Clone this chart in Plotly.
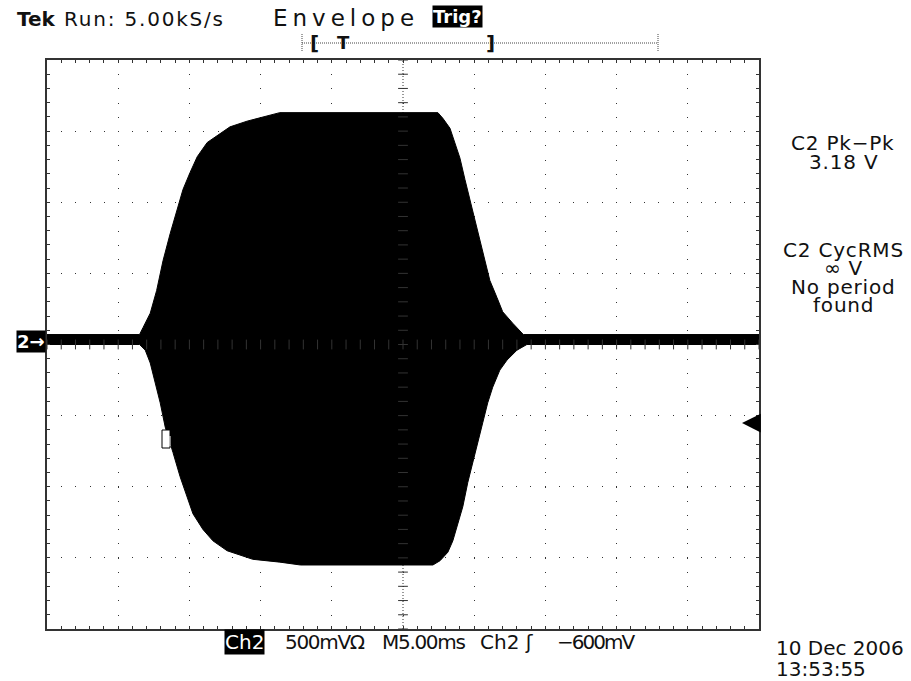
import numpy as np
import plotly.graph_objects as go

# ---------------- data (time in ms, amplitude in V) ----------------
upper_t = [-25.0, -18.5, -18.25, -17.75, -17.3, -16.85, -16.35, -15.85, -15.45, -14.95,
           -14.45, -13.75, -13.05, -12.15, -10.95, -9.85, -8.65, 2.45, 2.8, 3.3, 3.65,
           4.0, 4.35, 4.7, 5.05, 5.4, 5.75, 6.1, 6.6, 7.0, 7.7, 8.45, 25.0]
upper_v = [0.07, 0.07, 0.12, 0.22, 0.38, 0.59, 0.78, 0.95, 1.09, 1.21,
           1.32, 1.42, 1.47, 1.53, 1.57, 1.60, 1.63, 1.63, 1.59, 1.52, 1.42,
           1.31, 1.16, 1.02, 0.88, 0.73, 0.59, 0.45, 0.33, 0.23, 0.15, 0.07, 0.07]
lower_t = [-25.0, -18.5, -18.1, -17.75, -17.4, -17.05, -16.7, -16.15, -15.65, -15.15,
           -14.75, -14.05, -13.35, -12.35, -11.45, -10.55, -8.65, -7.2, 2.1, 2.6, 3.15,
           3.5, 3.85, 4.2, 4.55, 4.9, 5.25, 5.6, 5.95, 6.3, 6.8, 7.3, 8.0, 8.7, 25.0]
lower_v = [0.0, 0.0, -0.04, -0.13, -0.27, -0.41, -0.58, -0.76, -0.93, -1.07,
           -1.19, -1.30, -1.38, -1.45, -1.48, -1.51, -1.53, -1.55, -1.55, -1.52, -1.46,
           -1.38, -1.26, -1.14, -0.97, -0.83, -0.69, -0.55, -0.41, -0.30, -0.18, -0.11, -0.04, 0.0, 0.0]

time_per_div = 5.0      # ms
volts_per_div = 0.5     # V
n_xdiv, n_ydiv = 10, 8

header_left = "Run: 5.00kS/s"
header_mode = "Envelope"
meas_lines = ["C2 Pk\u2212Pk", "3.18 V", "C2 CycRMS", "\u221e V", "No period", "found"]
bottom_items = ["500mV\u03a9", "M5.00ms", "Ch2 \u0283", "\u2212600mV"]
date_lines = ["10 Dec 2006", "13:53:55"]

# ---------------- geometry ----------------
W, H = 911, 681
L, R, T, B = 47, 759, 60, 629
def px(x):
    return (x - L) / (R - L)
def py(y):
    return (B - y) / (B - T)

xr = [-n_xdiv / 2 * time_per_div, n_xdiv / 2 * time_per_div]
yr = [-n_ydiv / 2 * volts_per_div, n_ydiv / 2 * volts_per_div]

FONT = "DejaVu Sans"
INK = "#111111"
GRID = "#333333"

fig = go.Figure()

# envelope polygon
fig.add_trace(go.Scatter(
    x=upper_t + lower_t[::-1], y=upper_v + lower_v[::-1],
    mode="lines", fill="toself", fillcolor="black",
    line=dict(color="black", width=1), hoverinfo="skip", showlegend=False))

# centre-cross minor tick marks
ymin_ticks = np.arange(yr[0], yr[1] + 1e-9, volts_per_div / 5)
xmin_ticks = np.arange(xr[0], xr[1] + 1e-9, time_per_div / 5)
fig.add_trace(go.Scatter(
    x=np.zeros_like(ymin_ticks), y=ymin_ticks, mode="markers",
    marker=dict(symbol="line-ew", size=7, line=dict(color=GRID, width=1)),
    hoverinfo="skip", showlegend=False))
fig.add_trace(go.Scatter(
    x=xmin_ticks, y=np.zeros_like(xmin_ticks), mode="markers",
    marker=dict(symbol="line-ns", size=7, line=dict(color=GRID, width=1)),
    hoverinfo="skip", showlegend=False))

axis_common = dict(
    showgrid=True, gridcolor=GRID, gridwidth=1, griddash="1px,13.22px",
    zeroline=False, showticklabels=False,
    showline=True, linecolor="#333333", linewidth=2, mirror="ticks",
    ticks="inside", ticklen=3, tickcolor=GRID,
    fixedrange=True,
)
fig.update_layout(
    width=W, height=H,
    margin=dict(l=L, r=W - R, t=T, b=H - B, pad=0),
    paper_bgcolor="white", plot_bgcolor="white",
    showlegend=False,
    xaxis=dict(range=xr, dtick=time_per_div, tick0=0,
               minor=dict(dtick=time_per_div / 5, ticks="inside", ticklen=3,
                          tickcolor=GRID, showgrid=False),
               **axis_common),
    yaxis=dict(range=yr, dtick=volts_per_div, tick0=0,
               minor=dict(dtick=volts_per_div / 5, ticks="inside", ticklen=3,
                          tickcolor=GRID, showgrid=False),
               **axis_common),
)

shapes = []
# centre cross dense dotted lines
shapes.append(dict(type="line", xref="x", yref="y", x0=0, x1=0, y0=yr[0], y1=yr[1],
                   line=dict(color=GRID, width=1, dash="1px,2px"), layer="below"))
shapes.append(dict(type="line", xref="x", yref="y", x0=xr[0], x1=xr[1], y0=0, y1=0,
                   line=dict(color=GRID, width=1, dash="1px,2px"), layer="below"))
# record bar at top
shapes.append(dict(type="line", xref="paper", yref="paper", x0=px(302), x1=px(658),
                   y0=py(43), y1=py(43), line=dict(color="#444", width=1, dash="1px,1px")))
for xx in (302, 658):
    shapes.append(dict(type="line", xref="paper", yref="paper", x0=px(xx), x1=px(xx),
                       y0=py(34), y1=py(52), line=dict(color="#444", width=1, dash="1px,1px")))
# trigger position marker inside trace
shapes.append(dict(type="rect", xref="paper", yref="paper", x0=px(162), x1=px(170),
                   y0=py(448), y1=py(430), line=dict(color="black", width=1), fillcolor="white"))
shapes.append(dict(type="line", xref="paper", yref="paper", x0=px(170), x1=px(170),
                   y0=py(446), y1=py(436), line=dict(color="white", width=1)))
# trigger level arrow shaft
shapes.append(dict(type="line", xref="paper", yref="paper", x0=px(748), x1=px(759),
                   y0=py(423), y1=py(423), line=dict(color="black", width=2.5)))
fig.update_layout(shapes=shapes)

ann = []
def text(x, y, s, size=20, anchor="left", color=INK, bg=None, bold=False, ls=None, fam=FONT):
    if ls is not None:
        s = '<span style="letter-spacing:%.1fpx">%s</span>' % (ls, s)
    d = dict(xref="paper", yref="paper", x=px(x), y=py(y), text=s, showarrow=False,
             xanchor=anchor, yanchor="middle",
             font=dict(family=fam, size=size, color=color,
                       weight="bold" if bold else "normal"))
    if bg:
        d.update(bgcolor=bg, borderpad=0)
    ann.append(d)

# header
text(15, 19, "Tek", bold=True)
text(62, 19, header_left, ls=1.8)
text(271, 18, header_mode, size=23, ls=5.0)
text(457, 17, "Trig?", anchor="center", color="white", bg="black", bold=True, size=18)
text(314, 43, "[", anchor="center", size=20, bold=True)
text(343, 42, "T", anchor="center", size=18, bold=True)
text(490, 43, "]", anchor="center", size=20, bold=True)

# measurements
meas_y = [143, 162, 250, 268, 287, 305]
for s, yy in zip(meas_lines, meas_y):
    text(843, yy, s, anchor="center", size=20, ls=0.8)

# channel marker
text(31, 341, "2\u2192", anchor="center", color="white", bg="black", bold=True, size=18)

# bottom readout
text(244, 642, "Ch2", anchor="center", color="white", bg="black", size=20)
bx = [283, 380, 478, 555]
bls = [-1.3, -1.3, 0.0, -2.0]
for s, xx, l in zip(bottom_items, bx, bls):
    text(xx, 642, s, anchor="left", size=20, ls=l)
text(774, 648, date_lines[0], anchor="left", size=20)
text(774, 669, date_lines[1], anchor="left", size=20)

# trigger level arrow head on the right
ann.append(dict(xref="paper", yref="paper", x=px(742), y=py(423), text="",
                showarrow=True, ax=10, ay=0, arrowhead=2, arrowsize=1.5,
                arrowwidth=2.5, arrowcolor="black"))
fig.update_layout(annotations=ann)

fig.write_html("out.html", config={"displayModeBar": False},
               post_script="document.body.style.margin='0px';document.body.style.padding='0px';")
